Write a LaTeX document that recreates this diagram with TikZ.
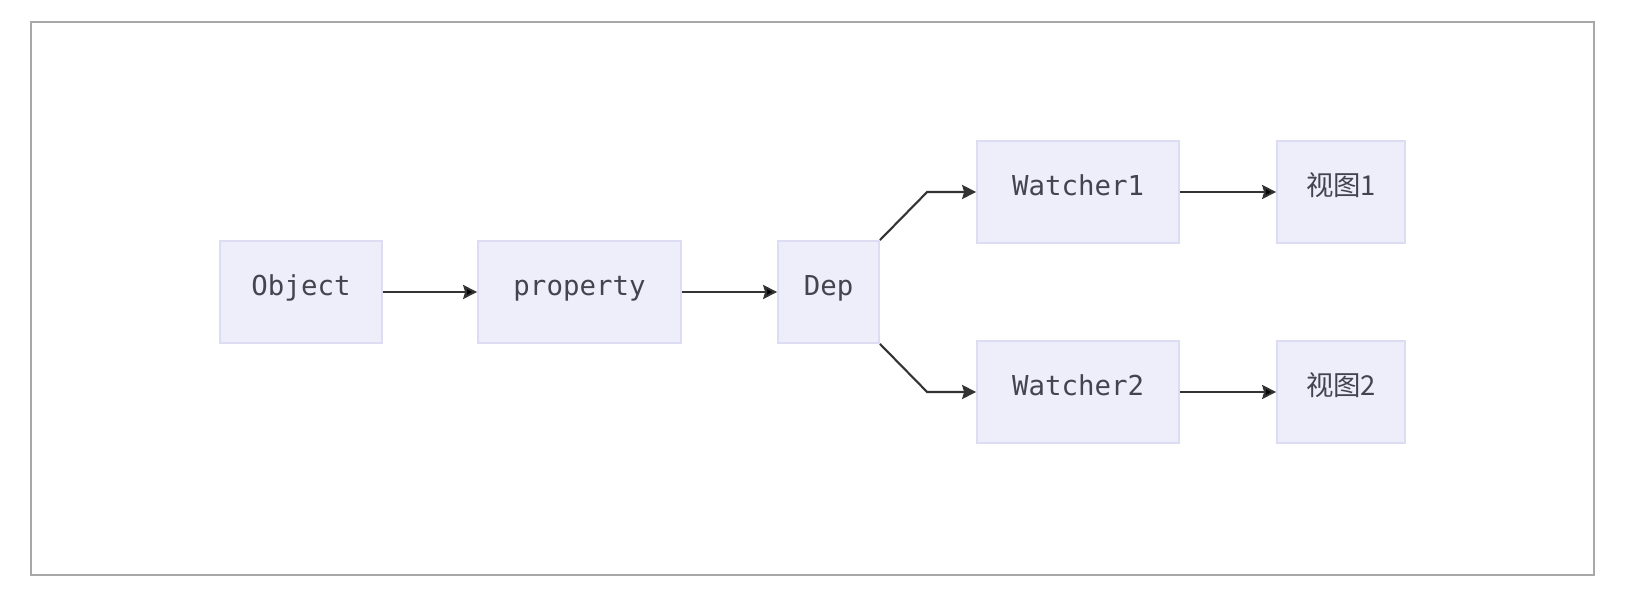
\documentclass[tikz,border=0pt]{standalone}
\usepackage{fontspec}
\setmonofont{DejaVu Sans Mono}
\newfontfamily\cjk{Noto Sans CJK SC}
\usetikzlibrary{arrows.meta, positioning}
\definecolor{nodefill}{HTML}{EEEEFB}
\definecolor{nodeline}{HTML}{DCDCF2}
\definecolor{nodetext}{HTML}{44444F}
\definecolor{edgeline}{HTML}{333333}
\definecolor{framegray}{HTML}{A8A8A8}

\begin{document}
\begin{tikzpicture} [node distance = 2.5cm, on grid,
every node/.style = {font = \fontsize{7.8}{9}\selectfont\ttfamily, text = nodetext},
box/.style = {draw = nodeline, fill = nodefill, line width = 0.5pt, minimum height = 1.02cm, inner sep = 0pt,
  text height = 0.21cm, text depth = 0.14cm},
link/.style = {draw = edgeline, line width = 0.6pt, -{Stealth[length=4pt, width=4pt, inset=0.6pt]}}]

\useasboundingbox (0,0) rectangle (16.32,5.92);
\draw [framegray, line width = 0.6pt] (0.31,0.17) rectangle (15.94,5.70);

\node (obj) [box, minimum width = 1.62cm] at (3.01,3) {Object};
\node (prop) [box, minimum width = 2.03cm, right = 2.785cm of obj] {property};
\node (dep) [box, minimum width = 1.01cm, right = 2.49cm of prop] {Dep};
\node (w1) [box, minimum width = 2.02cm, above right = 1cm and 2.495cm of dep] {Watcher1};
\node (w2) [box, minimum width = 2.02cm, below right = 1cm and 2.495cm of dep] {Watcher2};
\node (v1) [box, minimum width = 1.28cm, right = 2.63cm of w1, font = \fontsize{7.8}{9}\selectfont\cjk] {视图1};
\node (v2) [box, minimum width = 1.28cm, right = 2.63cm of w2, font = \fontsize{7.8}{9}\selectfont\cjk] {视图2};

\path [link]
    (obj) edge (prop)
    (prop) edge (dep)
    (w1) edge (v1)
    (w2) edge (v2);
\draw [link] (dep.north east) -- ([xshift=-0.49cm]w1.west) -- (w1.west);
\draw [link] (dep.south east) -- ([xshift=-0.49cm]w2.west) -- (w2.west);
\end{tikzpicture}
\end{document}
